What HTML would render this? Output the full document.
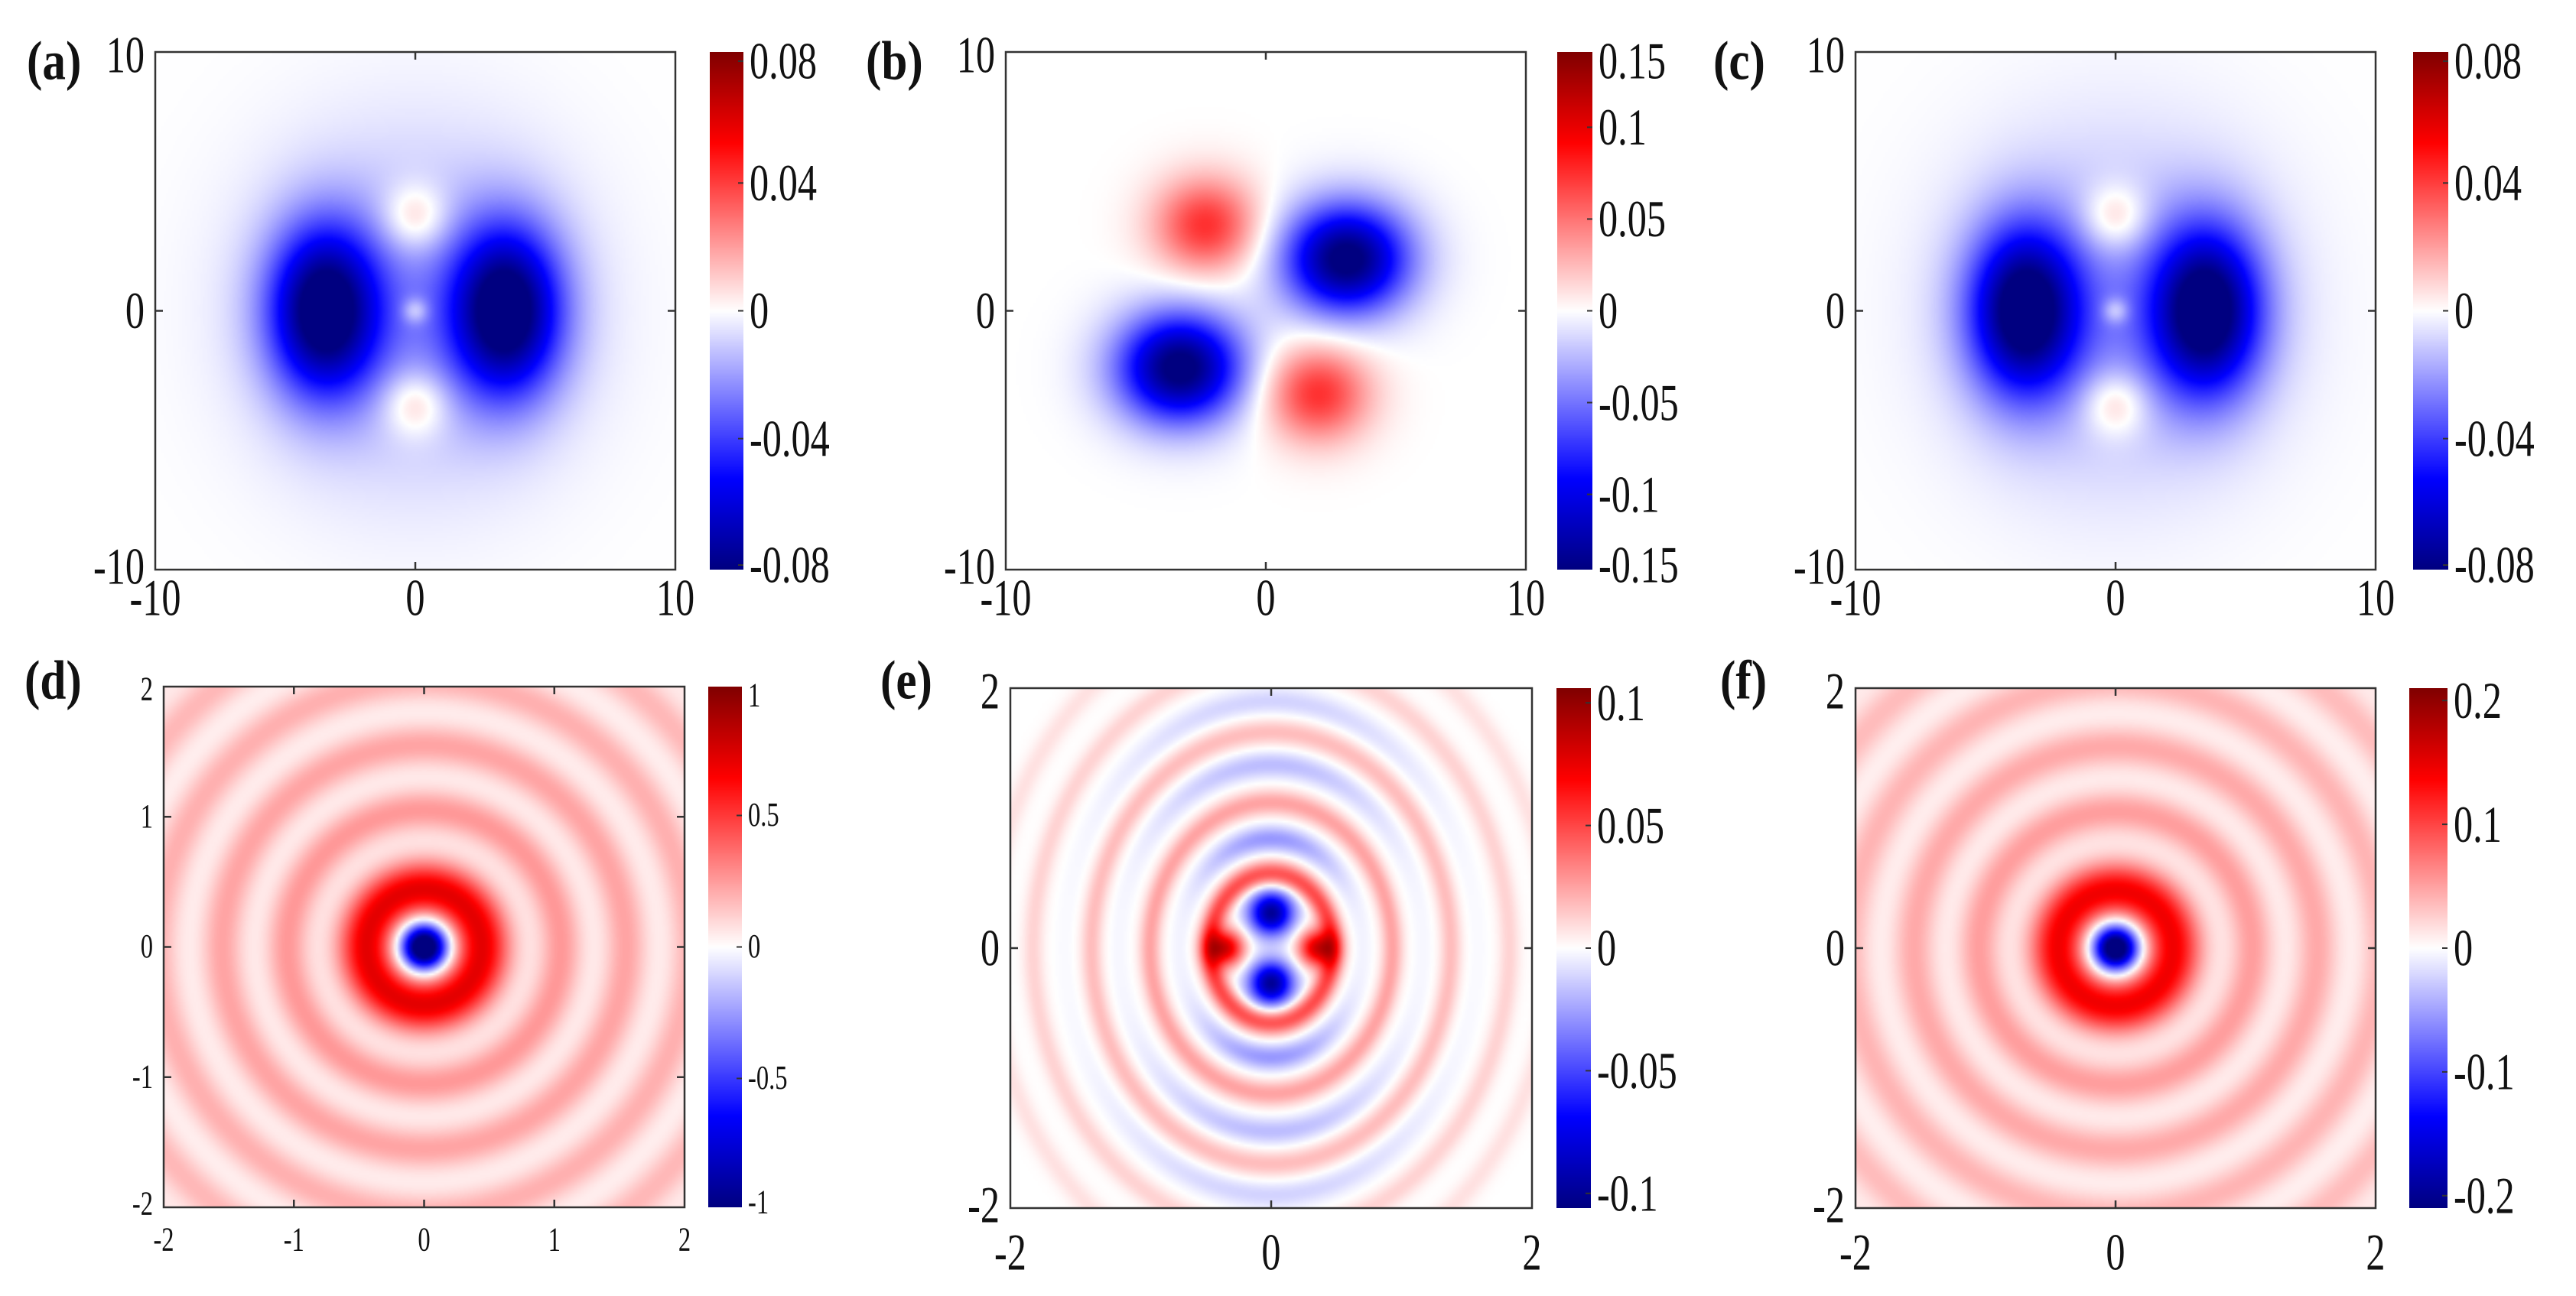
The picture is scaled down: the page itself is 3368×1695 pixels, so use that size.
<!DOCTYPE html>
<html><head><meta charset="utf-8"><style>
html,body{margin:0;padding:0;background:#fff;}
#root{position:relative;width:3368px;height:1695px;overflow:hidden;background:#fff;}
canvas{position:absolute;}
svg{position:absolute;left:0;top:0;}
</style></head><body>
<div id="root">
<svg id="ov" width="3368" height="1695"></svg>
</div>
<script>
// ---------- data ----------
const aCx=[-3.5,3.5,0,0,0,0];
const aCy=[0,0,3.6,-3.6,0,0];
const aAmp=[-0.085,-0.085,0.022,0.022,0.02,-0.02];
const aSx=[1.5,1.5,0.9,0.9,0.35,4];
const aSy=[2.3,2.3,0.9,0.9,0.35,4.5];
const bCx=[3.1,-3.3,-2.3,2.0];
const bCy=[2.0,-2.2,3.3,-3.2];
const bAmp=[-0.15,-0.15,0.075,0.075];
const bSx=[1.7,1.7,1.4,1.4];
const bSy=[1.5,1.5,1.3,1.3];
const cCx=[-3.5,3.5,0,0,0,0];
const cCy=[0,0,3.6,-3.6,0,0];
const cAmp=[-0.085,-0.085,0.022,0.022,0.02,-0.02];
const cSx=[1.5,1.5,0.9,0.9,0.35,4];
const cSy=[2.3,2.3,0.9,0.9,0.35,4.5];
const dRingR=[0,0.44,1.05,1.55,2.05,2.55,3.0];
const dRingA=[-1.3,0.72,0.26,0.23,0.2,0.18,0.15];
const dRingW=[0.17,0.22,0.17,0.17,0.17,0.17,0.17];
const eCx=[0,0,-0.35,0.35];
const eCy=[0.27,-0.27,0,0];
const eAmp=[-0.1,-0.1,0.08,0.08];
const eSig=[0.12,0.12,0.1,0.1];
const eRingR=[0.57,0.84,1.12,1.41,1.66,1.9,2.2,2.6];
const eRingA=[0.05,-0.028,0.025,-0.018,0.018,-0.012,0.012,0.008];
const fRingR=[0,0.44,1.05,1.55,2.05,2.55,3.0];
const fRingA=[-0.26,0.145,0.052,0.046,0.04,0.036,0.03];
const fRingW=[0.17,0.22,0.17,0.17,0.17,0.17,0.17];
const topAxisTicks=[-10,0,10];
const dAxisTicks=[-2,-1,0,1,2];
const efAxisTicks=[-2,0,2];
const aCbTicks=[0.08,0.04,0,-0.04,-0.08];
const bCbTicks=[0.15,0.1,0.05,0,-0.05,-0.1,-0.15];
const cCbTicks=[0.08,0.04,0,-0.04,-0.08];
const dCbTicks=[1,0.5,0,-0.5,-1];
const eCbTicks=[0.1,0.05,0,-0.05,-0.1];
const fCbTicks=[0.2,0.1,0,-0.1,-0.2];

// ---------- helpers ----------
function cmap(t){
  t=Math.max(-1,Math.min(1,t));
  const st=[[-1,0,0,128],[-0.65,0,0,255],[0,255,255,255],[0.65,255,0,0],[1,128,0,0]];
  for(let i=0;i<st.length-1;i++){
    if(t<=st[i+1][0]){const f=(t-st[i][0])/(st[i+1][0]-st[i][0]);
      return [0,1,2].map(k=>Math.round(st[i][k+1]+f*(st[i+1][k+1]-st[i][k+1])));}
  }
  return [128,0,0];
}
function gauss(x,y,cx,cy,amp,sx,sy){let s=0;for(let i=0;i<cx.length;i++){const dx=(x-cx[i])/sx[i],dy=(y-cy[i])/sy[i];s+=amp[i]*Math.exp(-0.5*(dx*dx+dy*dy));}return s;}
function rings(r,R,A,W){let s=0;for(let i=0;i<R.length;i++){const d=(r-R[i])/W[i];s+=A[i]*Math.exp(-d*d);}return s;}
const NS='http://www.w3.org/2000/svg';
const ov=document.getElementById('ov');
function sv(tag,attrs,parent){const e=document.createElementNS(NS,tag);for(const k in attrs)e.setAttribute(k,attrs[k]);(parent||ov).appendChild(e);return e;}
function txt(s,x,y,fs,anchor,parent,bold,sx){const t=sv('text',{x:0,y:0,transform:'translate('+x+','+y+') scale('+(sx||0.74)+',1)','font-size':fs,'text-anchor':anchor,'dominant-baseline':'central','font-family':'"Liberation Serif", serif','font-weight':bold?'bold':'normal',fill:'#111'},parent);t.textContent=s;return t;}

const panels=[
 {id:'a',px:203,py:68,pw:680,ph:677,cbx:928,cbw:44,range:10,clim:0.081,ticks:topAxisTicks,cbt:aCbTicks,fs:68,cfs:68,lx:35,ly:80,xly:782,
  f:(x,y)=>gauss(x,y,aCx,aCy,aAmp,aSx,aSy)},
 {id:'b',px:1315,py:68,pw:680,ph:677,cbx:2036,cbw:46,range:10,clim:0.141,ticks:topAxisTicks,cbt:bCbTicks,fs:68,cfs:68,lx:1132,ly:80,xly:782,
  f:(x,y)=>gauss(x,y,bCx,bCy,bAmp,bSx,bSy)},
 {id:'c',px:2426,py:68,pw:680,ph:677,cbx:3155,cbw:46,range:10,clim:0.081,ticks:topAxisTicks,cbt:cCbTicks,fs:68,cfs:68,lx:2240,ly:80,xly:782,
  f:(x,y)=>gauss(x,y,cCx,cCy,cAmp,cSx,cSy)},
 {id:'d',px:214,py:898,pw:681,ph:681,cbx:926,cbw:44,range:2,clim:0.99,ticks:dAxisTicks,cbt:dCbTicks,fs:44,cfs:44,lx:32,ly:890,xly:1622,
  f:(x,y)=>rings(Math.hypot(x,y),dRingR,dRingA,dRingW)},
 {id:'e',px:1321,py:900,pw:682,ph:680,cbx:2035,cbw:45,range:2,clim:0.106,ticks:efAxisTicks,cbt:eCbTicks,fs:68,cfs:68,lx:1151,ly:890,xly:1638,
  f:(x,y)=>{const xe=x/0.83;const r=Math.hypot(xe,y);const s2=r>0?(y*y)/(r*r):0;let v=gauss(x,y,eCx,eCy,eAmp,eSig,eSig);
    for(let i=0;i<eRingR.length;i++){const d=(r-eRingR[i])/0.1;let a=eRingA[i];if(a<0)a*=(0.12+0.88*Math.pow(s2,1.5));v+=a*Math.exp(-d*d);}return v;}},
 {id:'f',px:2426,py:900,pw:680,ph:680,cbx:3150,cbw:50,range:2,clim:0.21,ticks:efAxisTicks,cbt:fCbTicks,fs:68,cfs:68,lx:2249,ly:890,xly:1638,
  f:(x,y)=>rings(Math.hypot(x,y),fRingR,fRingA,fRingW)}
];

const root=document.getElementById('root');
panels.forEach(p=>{
  const N=220;
  const cv=document.createElement('canvas');
  
  
  cv.width=N;cv.height=N;
  cv.style.left=p.px+'px';cv.style.top=p.py+'px';cv.style.width=p.pw+'px';cv.style.height=p.ph+'px';
  const ctx=cv.getContext('2d');const img=ctx.createImageData(N,N);
  for(let j=0;j<N;j++)for(let i=0;i<N;i++){
    const x=-p.range+(i+0.5)/N*2*p.range, y=p.range-(j+0.5)/N*2*p.range;
    const c=cmap(p.f(x,y)/p.clim);const k=(j*N+i)*4;
    img.data[k]=c[0];img.data[k+1]=c[1];img.data[k+2]=c[2];img.data[k+3]=255;}
  ctx.putImageData(img,0,0);
  root.insertBefore(cv,ov);
  const cb=document.createElement('canvas');
  
  
  cb.width=1;cb.height=256;
  cb.style.left=p.cbx+'px';cb.style.top=p.py+'px';cb.style.width=p.cbw+'px';cb.style.height=p.ph+'px';
  const cx2=cb.getContext('2d');const im2=cx2.createImageData(1,256);
  for(let j=0;j<256;j++){const c=cmap(1-2*(j+0.5)/256);im2.data[j*4]=c[0];im2.data[j*4+1]=c[1];im2.data[j*4+2]=c[2];im2.data[j*4+3]=255;}
  cx2.putImageData(im2,0,0);
  root.insertBefore(cb,ov);

  const g=sv('g',{});
  
  
  const fr=sv('rect',{x:p.px,y:p.py,width:p.pw,height:p.ph,fill:'none',stroke:'#333','stroke-width':2.5},g);
  
  
  const xs=v=>p.px+(v+p.range)/(2*p.range)*p.pw;
  const ys=v=>p.py+(p.range-v)/(2*p.range)*p.ph;
  p.ticks.forEach(v=>{
    const X=xs(v),Y=ys(v);
    if(Math.abs(v)<p.range){
      sv('line',{x1:X,y1:p.py,x2:X,y2:p.py+10,stroke:'#333','stroke-width':2.5},g);
      sv('line',{x1:X,y1:p.py+p.ph,x2:X,y2:p.py+p.ph-10,stroke:'#333','stroke-width':2.5},g);
      sv('line',{x1:p.px,y1:Y,x2:p.px+10,y2:Y,stroke:'#333','stroke-width':2.5},g);
      sv('line',{x1:p.px+p.pw,y1:Y,x2:p.px+p.pw-10,y2:Y,stroke:'#333','stroke-width':2.5},g);
    }
    const xl=txt(String(v),X,p.xly,p.fs,'middle',g);
    
    
    let yy=Y; if(v===-p.range) yy=Y-4; if(v===p.range) yy=Y+4;
    const yl=txt(String(v),p.px-14,yy,p.fs,'end',g);
    
    
  });
  p.cbt.forEach(v=>{
    let Y=p.py+(p.clim-v)/(2*p.clim)*p.ph;
    Y=Math.max(p.py+12,Math.min(p.py+p.ph-6,Y));
    if(Math.abs(v)<p.clim) sv('line',{x1:p.cbx+p.cbw-7,y1:Y,x2:p.cbx+p.cbw,y2:Y,stroke:'#333','stroke-width':2},g);
    const cl=txt(String(v),p.cbx+p.cbw+8,Y,p.cfs,'start',g);
    
    
  });
  const lb=txt('('+p.id+')',p.lx,p.ly,72,'start',g,true,0.85);
  
  
});
</script>
</body></html>
